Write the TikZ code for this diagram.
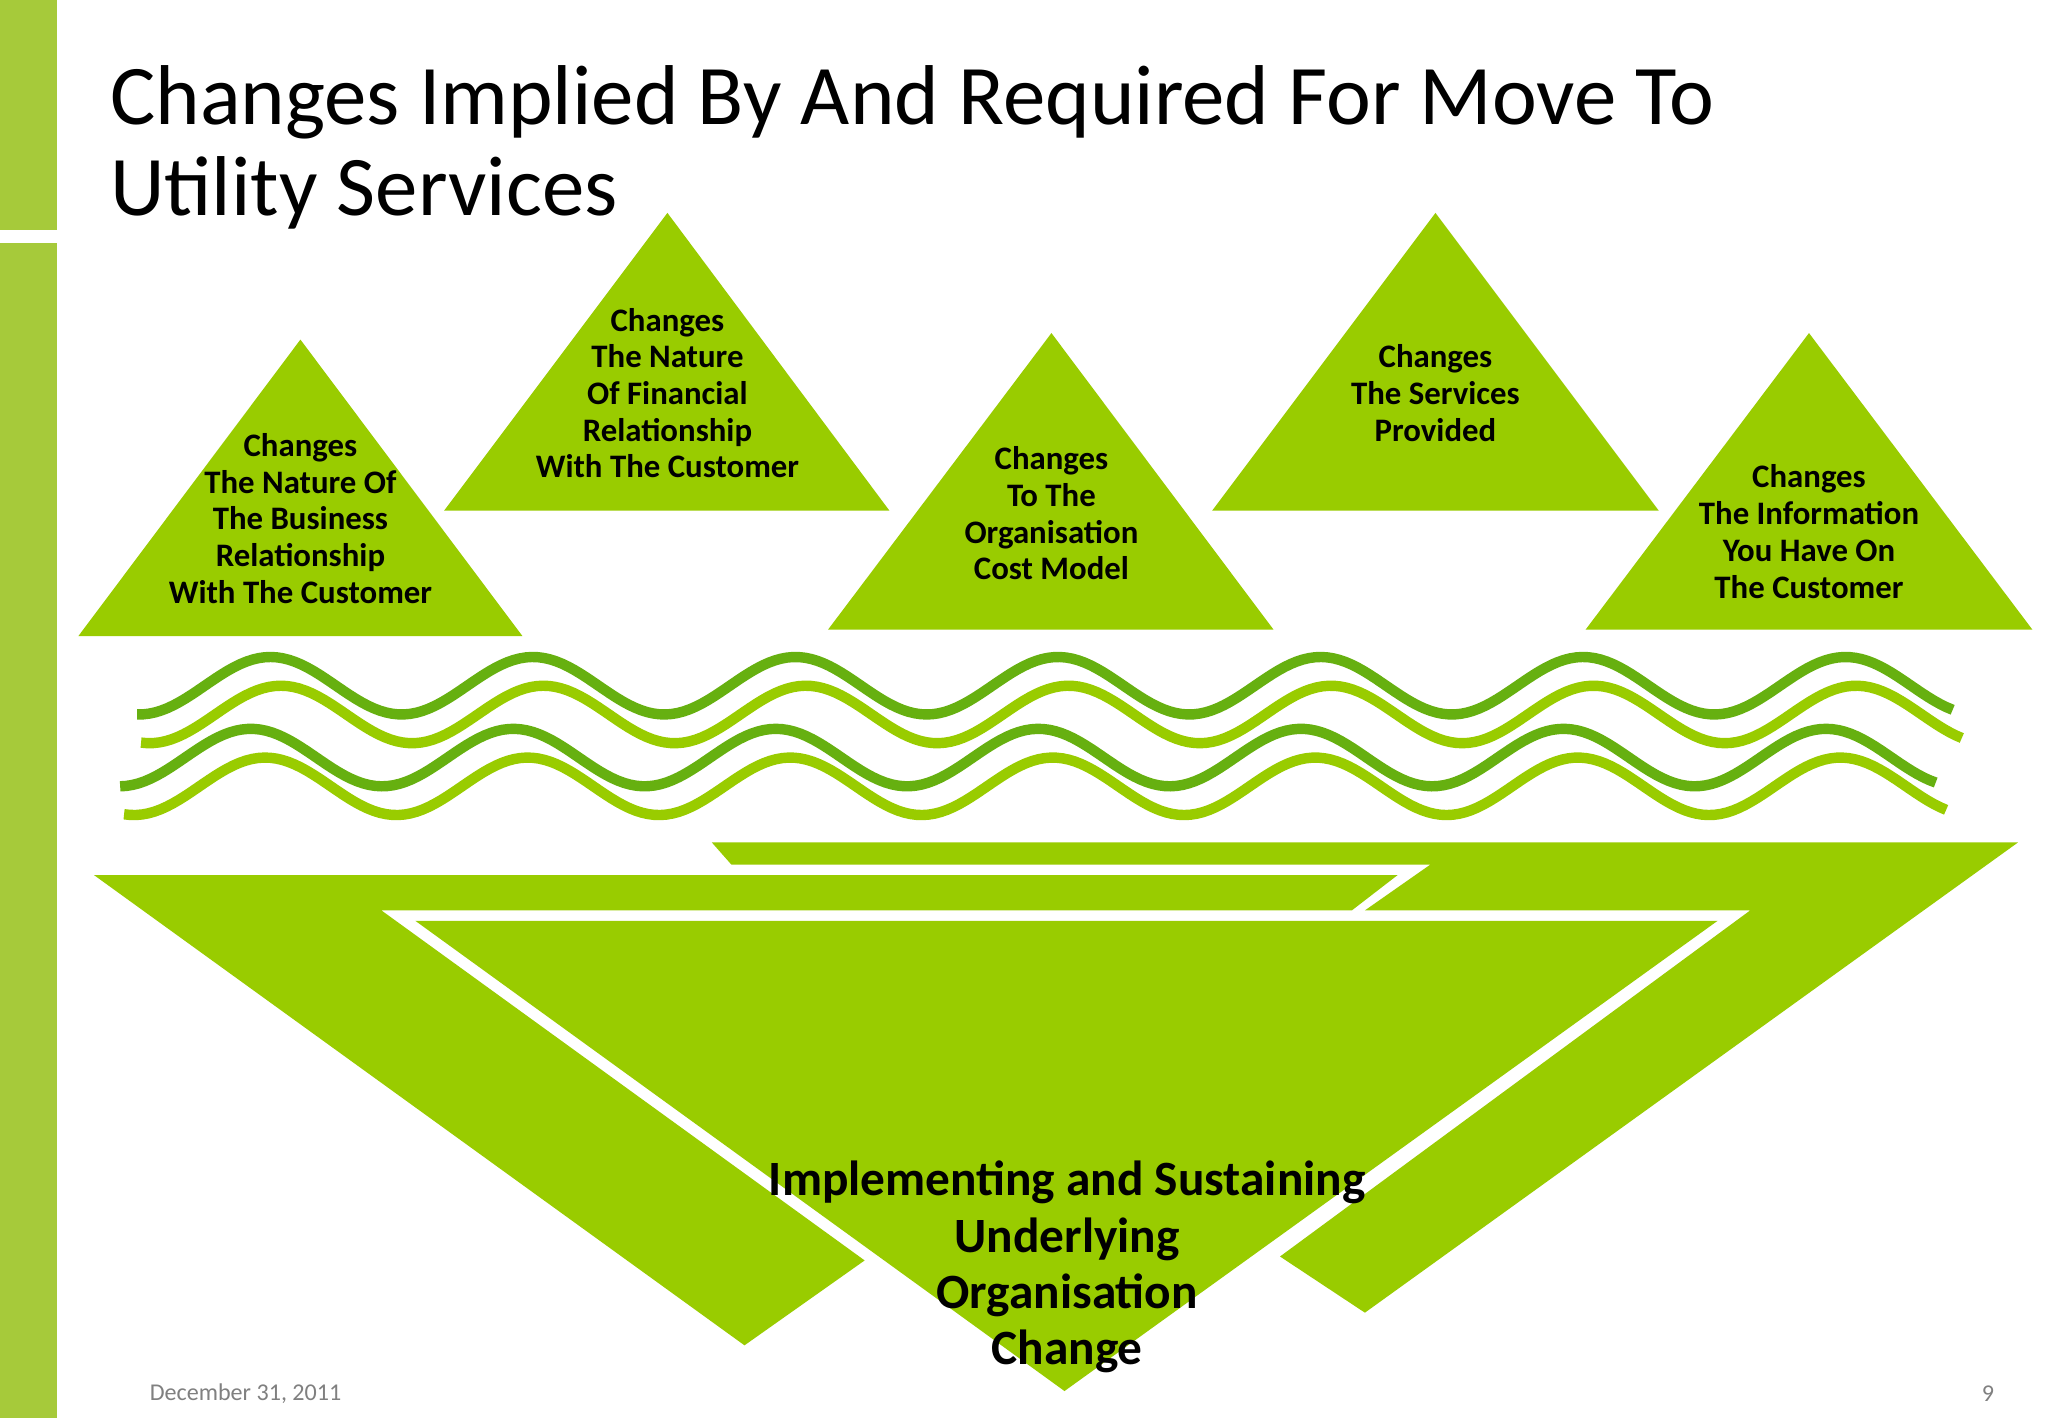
\documentclass[tikz,border=0pt]{standalone}
\usepackage{fontspec}
\setmainfont{Carlito}
\begin{document}
\begin{tikzpicture}[x=0.02cm,y=-0.02cm,
  tri/.style={fill=gr,draw=none},
  tt/.style={font=\bfseries\fontsize{14.3}{16}\selectfont,align=center,text=black},
  wd/.style={line width=8*0.567pt,color=wdark},
  wl/.style={line width=8*0.567pt,color=gr}]
\definecolor{gr}{HTML}{99CC00}
\definecolor{bar}{HTML}{A6CA3A}
\definecolor{wdark}{HTML}{66B010}
\useasboundingbox (0,0) rectangle (1568,1086);
\fill[white] (0,0) rectangle (1568,1086);
\fill[bar] (0,0) rectangle (44,176);
\fill[bar] (0,186) rectangle (44,1086);
\node[anchor=north west,align=left,font=\fontsize{37}{39.5}\selectfont,inner sep=0] (title) at (84,50) {Changes Implied By And Required For Move To\\Utility Services};
% triangles
\fill[tri] (60,487) -- (230,260) -- (400,487) -- cycle;
\fill[tri] (340,391) -- (511,163) -- (681,391) -- cycle;
\fill[tri] (634,482) -- (805,255) -- (975,482) -- cycle;
\fill[tri] (928,391) -- (1099,163) -- (1270,391) -- cycle;
\fill[tri] (1214,482) -- (1385,255) -- (1556,482) -- cycle;
\node[tt] (t1) at (230,397) {Changes\\The Nature Of\\The Business\\Relationship\\With The Customer};
\node[tt] (t2) at (511,301) {Changes\\The Nature\\Of Financial\\Relationship\\With The Customer};
\node[tt] (t3) at (805,393) {Changes\\To The\\Organisation\\Cost Model};
\node[tt] (t4) at (1099,301) {Changes\\The Services\\Provided};
\node[tt] (t5) at (1385,407) {Changes\\The Information\\You Have On\\The Customer};
% waves
\draw[wd] plot[domain=105:1495,samples=300] (\x,{525-22*cos(1.791*(\x-207))});
\draw[wl] plot[domain=108:1502,samples=300] (\x,{547-22*cos(1.791*(\x-215))});
\draw[wd] plot[domain=92:1482,samples=300] (\x,{580-22*cos(1.791*(\x-192))});
\draw[wl] plot[domain=95:1490,samples=300] (\x,{602-22*cos(1.791*(\x-203))});
% bottom shapes
\fill[gr] (545,645) -- (1545,645) -- (1045,1005) -- (980,962) -- (1340,697) -- (1045,697) -- (1095,662) -- (560,662) -- cycle;
\fill[gr] (72,670) -- (1070,670) -- (1035,697) -- (292,697) -- (662,965) -- (570,1030) -- cycle;
\fill[gr] (318,705) -- (1315,705) -- (815,1065) -- cycle;
\node[font=\bfseries\fontsize{21.5}{24.5}\selectfont,align=center] (b) at (817,970) {Implementing and Sustaining\\Underlying\\Organisation\\Change};
\node[font=\fontsize{10.5}{12}\selectfont,text=gray] (d) at (188,1067) {December 31, 2011};
\node[font=\fontsize{10.5}{12}\selectfont,text=gray] (n) at (1522,1067) {9};
\end{tikzpicture}
\end{document}
